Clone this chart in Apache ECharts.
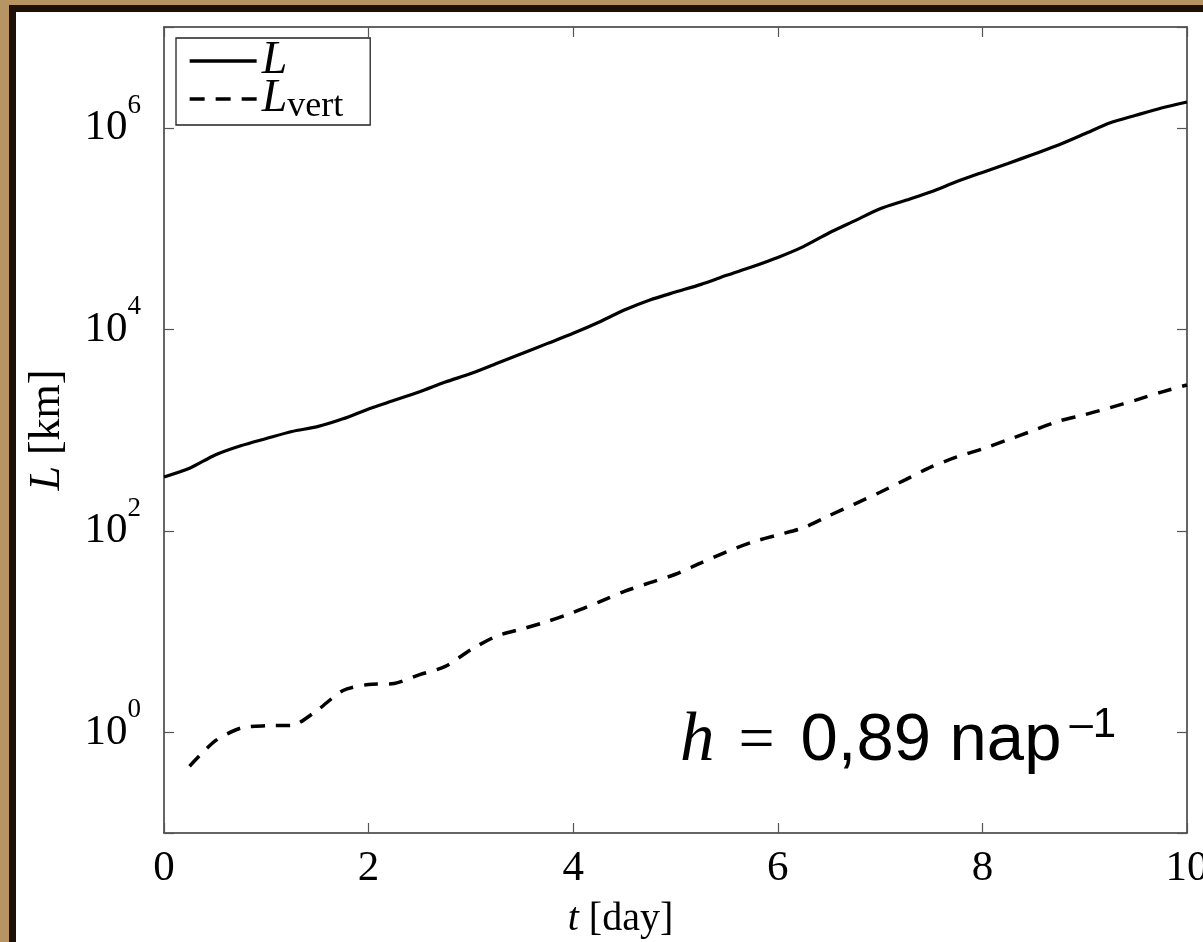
<!DOCTYPE html>
<html>
<head>
<meta charset="utf-8">
<title>L vs t</title>
<script src="https://cdn.jsdelivr.net/npm/echarts@6/dist/echarts.min.js"></script>
<style>
  html, body { margin: 0; padding: 0; overflow: hidden; }
  body { width: 1203px; height: 942px; background: #b69464; position: relative; }
  #frame {
    position: absolute; left: 9px; top: 5px; width: 1400px; height: 1100px;
    background: #fff; border-left: 7px solid #1c1108; border-top: 7px solid #1c1108;
  }
  #chart { position: absolute; left: 0; top: 0; width: 1203px; height: 942px; }
</style>
</head>
<body>
<div id="frame"></div>
<div id="chart"></div>
<script>
// t [day] for the total length curve
const tDays = [0, 0.25, 0.5, 0.75, 1, 1.25, 1.5, 1.75, 2, 2.25, 2.5, 2.75, 3, 3.25, 3.5, 3.75,
  4, 4.25, 4.5, 4.75, 5, 5.25, 5.5, 5.75, 6, 6.25, 6.5, 6.75, 7, 7.25, 7.5, 7.75,
  8, 8.25, 8.5, 8.75, 9, 9.25, 9.5, 9.75, 10];
// L [km]
const lengthTotal = [342, 417, 565, 697, 822, 966, 1080, 1290, 1620, 1970, 2400, 2990, 3630, 4570, 5750, 7240,
  9120, 11750, 15500, 19500, 23400, 27900, 34300, 41700, 51600, 66100, 90200, 119000, 157000, 190500, 232000, 292000,
  360000, 442000, 546000, 679000, 871000, 1120000, 1330000, 1570000, 1800000];

// t [day] for the vertical length curve
const tVert = [0.25, 0.5, 0.75, 1, 1.25, 1.5, 1.75, 2, 2.25, 2.5, 2.75, 3, 3.25, 3.5, 3.75,
  4, 4.25, 4.5, 4.75, 5, 5.25, 5.5, 5.75, 6, 6.25, 6.5, 6.75, 7, 7.25, 7.5, 7.75,
  8, 8.25, 8.5, 8.75, 9, 9.25, 9.5, 9.75, 10];
// L_vert [km]
const lengthVert = [0.46, 0.82, 1.1, 1.16, 1.17, 1.66, 2.6, 2.98, 3.05, 3.73, 4.5, 6.6, 9.0, 10.6, 12.6,
  15.5, 19.6, 25, 30.5, 37, 48, 62, 77, 91, 107, 141, 184, 241, 322, 430, 540,
  650, 800, 990, 1230, 1420, 1670, 1980, 2380, 2800];

const seriesNames = ['L', 'Lvert'];
const xMin = 0, xMax = 10, xStep = 2;
const yMin = 0.1, yMax = 1e7;
const annotation = { h: 'h', eq: '=', value: '0,89 nap', exp: '\u20131' };

const serif = '"Liberation Serif", "DejaVu Serif", serif';
const sans = 'Arial, "Liberation Sans", sans-serif';
const axisColor = '#333';
const tickStyle = { show: true, inside: true, length: 10, lineStyle: { color: '#555', width: 1.2 } };

const chart = echarts.init(document.getElementById('chart'), null, { renderer: 'canvas' });

const option = {
  backgroundColor: 'transparent',
  animation: false,
  grid: { left: 164, right: 16, top: 27, bottom: 109, outerBoundsMode: 'none' },
  legend: {
    data: [
      { name: seriesNames[0] },
      { name: seriesNames[1], lineStyle: { type: [15, 11] } }
    ],
    orient: 'vertical',
    left: 176,
    top: 38,
    itemWidth: 67,
    itemHeight: 14,
    itemGap: -11,
    padding: [0, 27, 0, 12],
    backgroundColor: '#fff',
    borderColor: '#222',
    borderWidth: 1.3,
    borderRadius: 0,
    selectedMode: false,
    itemStyle: { opacity: 0 },
    lineStyle: { width: 3.3 },
    formatter: (name) => (name === 'L' ? '{i|L}' : '{i|L}{s|vert}'),
    textStyle: {
      color: '#000',
      rich: {
        i: { fontFamily: serif, fontStyle: 'italic', fontSize: 46, lineHeight: 30 },
        s: { fontFamily: serif, fontSize: 36, lineHeight: 23, padding: [16, 0, 0, 0] }
      }
    }
  },
  xAxis: [
    {
      type: 'value', position: 'bottom', min: xMin, max: xMax, interval: xStep,
      name: '{i|t}{r| [day]}', nameLocation: 'middle', nameGap: 66,
      nameTextStyle: {
        color: '#000',
        padding: [0, 110, 0, 0],
        rich: {
          i: { fontFamily: serif, fontStyle: 'italic', fontSize: 40 },
          r: { fontFamily: serif, fontSize: 40 }
        }
      },
      axisLine: { show: true, onZero: false, lineStyle: { color: axisColor, width: 1.5 } },
      axisTick: tickStyle,
      axisLabel: { color: '#000', fontFamily: serif, fontSize: 43, margin: 14 },
      splitLine: { show: false }
    },
    {
      type: 'value', position: 'top', min: xMin, max: xMax, interval: xStep,
      axisLine: { show: true, onZero: false, lineStyle: { color: axisColor, width: 1.5 } },
      axisTick: tickStyle,
      axisLabel: { show: false },
      splitLine: { show: false }
    }
  ],
  yAxis: [
    {
      type: 'log', logBase: 10, position: 'left', min: yMin, max: yMax,
      name: '{i|L}{r| [km]}', nameLocation: 'middle', nameGap: 95,
      nameTextStyle: {
        color: '#000',
        rich: {
          i: { fontFamily: serif, fontStyle: 'italic', fontSize: 44 },
          r: { fontFamily: serif, fontSize: 44 }
        }
      },
      axisLine: { show: true, onZero: false, lineStyle: { color: axisColor, width: 1.5 } },
      axisTick: { show: false },
      axisLabel: {
        margin: 23,
        formatter: (v) => {
          const e = Math.round(Math.log10(v));
          return (e >= 0 && e <= 6 && e % 2 === 0) ? '{b|10}{e|' + e + '}' : '';
        },
        rich: {
          b: { fontFamily: serif, fontSize: 43, color: '#000' },
          e: { fontFamily: serif, fontSize: 27, color: '#000', padding: [0, 0, 44, 0] }
        }
      },
      splitLine: { show: false }
    },
    {
      // tick marks at every second decade (exponent scale), left side
      type: 'value', position: 'left', min: -1, max: 7, splitNumber: 4,
      axisLine: { show: false, onZero: false },
      axisTick: tickStyle,
      axisLabel: { show: false },
      splitLine: { show: false }
    },
    {
      // mirrored frame and ticks, right side
      type: 'value', position: 'right', min: -1, max: 7, splitNumber: 4,
      axisLine: { show: true, onZero: false, lineStyle: { color: axisColor, width: 1.5 } },
      axisTick: tickStyle,
      axisLabel: { show: false },
      splitLine: { show: false }
    }
  ],
  series: [
    {
      name: seriesNames[0],
      type: 'line',
      xAxisIndex: 0,
      yAxisIndex: 0,
      data: tDays.map((t, i) => [t, lengthTotal[i]]),
      symbol: 'none',
      smooth: 0.25,
      lineStyle: { color: '#000', width: 3.2, type: 'solid' },
      itemStyle: { color: '#000' }
    },
    {
      name: seriesNames[1],
      type: 'line',
      xAxisIndex: 0,
      yAxisIndex: 0,
      data: tVert.map((t, i) => [t, lengthVert[i]]),
      symbol: 'none',
      smooth: 0.25,
      lineStyle: { color: '#000', width: 3.5, type: [14, 11] },
      itemStyle: { color: '#000' }
    }
  ],
  graphic: [
    {
      type: 'text',
      left: 680,
      top: 704,
      style: {
        text: '{h|' + annotation.h + '}{eq|' + annotation.eq + '}{n|' + annotation.value + '}{sup|' + annotation.exp + '}',
        fill: '#000',
        rich: {
          h: { fontFamily: serif, fontStyle: 'italic', fontSize: 69 },
          eq: { fontFamily: serif, fontSize: 64, padding: [0, 26, 0, 24] },
          n: { fontFamily: sans, fontSize: 67 },
          sup: { fontFamily: sans, fontSize: 42, padding: [0, 0, 34, 8] }
        }
      }
    }
  ]
};

chart.setOption(option);
window.addEventListener('resize', () => chart.resize());
</script>
</body>
</html>
